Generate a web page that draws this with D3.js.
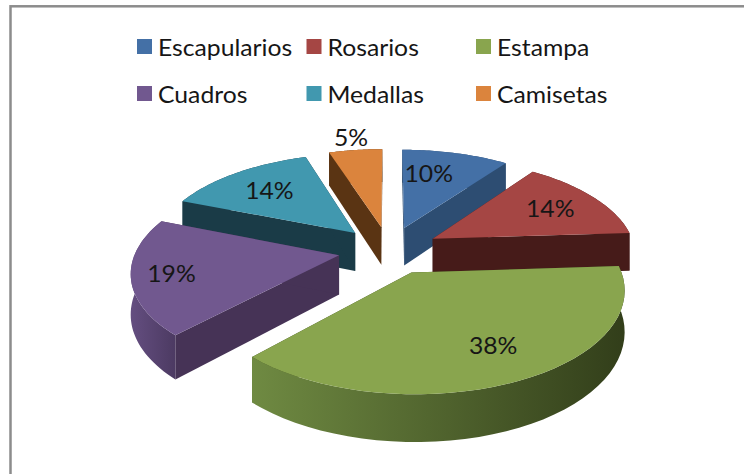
<!DOCTYPE html>
<html><head><meta charset="utf-8">
<script src="https://cdn.jsdelivr.net/npm/d3@7"></script>
<style>html,body{margin:0;padding:0;background:#fff}svg{display:block}text{font-family:Lato,"Open Sans",sans-serif;fill:#161616}</style>
</head><body><svg id="c" width="744" height="474"></svg>
<script>
const categories = ["Escapularios","Rosarios","Estampa","Cuadros","Medallas","Camisetas"];
const percents = [10,14,38,19,14,5];
const topColors = ["#4470a6","#a54644","#89a54e","#71588f","#4198af","#db843d"];
const wallColors = ["#2d4d72","#461b19","#3a4620","#463356","#1a3b47","#5a3413"];
const rimLeft = ["#2d4d72","#461b19","#6f8a42","#644e80","#1a3b47","#5a3413"];
const rimRight = ["#2d4d72","#461b19","#323e1a","#4c3a62","#1a3b47","#5a3413"];
const labelRadius = [0.7,0.72,0.72,0.81,0.7,1.2];
const labelAngle = [-6,0,-3,0,0,0];

const W=744,H=474,TEXT_STRETCH=1.03,FONT_SIZE=24;
const svg=d3.select("#c");
const defs=svg.append("defs");
const cx=389,cy=250,R=203,Q=96,P=0.15,EXPL=0.25,DEPTH=39;
const rad=Math.PI/180;
const proj=(u,v)=>{const s=1/(1-P*v);return [cx+R*u*s,cy+Q*v*s,s];};

svg.append("rect").attr("x",10.5).attr("y",6.3).attr("width",W+20).attr("height",H+20)
  .attr("fill","#fff").attr("stroke","#8c8c8c").attr("stroke-width",2.5);

const slices=d3.pie().sort(null).value(d=>d)(percents).map((a,i)=>{
  const mid=(a.startAngle+a.endAngle)/2;
  return {i,a,mid,u0:EXPL*Math.sin(mid),v0:-EXPL*Math.cos(mid)};
});
const pt=(s,th,r)=>proj(s.u0+r*Math.sin(th),s.v0-r*Math.cos(th));
const line=d3.line();
const rimPts=s=>d3.range(0,41).map(k=>pt(s,s.a.startAngle+(s.a.endAngle-s.a.startAngle)*k/40,1));
const down=p=>[p[0],p[1]+DEPTH*p[2]];

slices.forEach(s=>{
  const g=defs.append("linearGradient").attr("id","rim"+s.i);
  g.append("stop").attr("offset",0).attr("stop-color",rimLeft[s.i]);
  g.append("stop").attr("offset",1).attr("stop-color",rimRight[s.i]);
});

const order=slices.slice().sort((a,b)=>a.v0-b.v0);
const gs=svg.selectAll("g.slice").data(order).join("g").attr("class","slice");
gs.each(function(s){
  const g=d3.select(this),apex=proj(s.u0,s.v0),rim=rimPts(s);
  const wall=(p)=>[apex,p,down(p),down(apex)];
  g.append("path").attr("d",line(wall(rim[0]).map(p=>p.slice(0,2)))+"Z").attr("fill",wallColors[s.i]);
  g.append("path").attr("d",line(wall(rim[40]).map(p=>p.slice(0,2)))+"Z").attr("fill",wallColors[s.i]);
  g.append("path").attr("d",line(rim.concat(rim.map(down).reverse()).map(p=>p.slice(0,2)))+"Z").attr("fill",`url(#rim${s.i})`);
  g.append("path").attr("d",line([apex].concat(rim).map(p=>p.slice(0,2)))+"Z").attr("fill",topColors[s.i]);
});

svg.selectAll("text.pct").data(slices).join("text").attr("class","pct")
  .attr("text-anchor","middle").attr("dominant-baseline","central").attr("font-size",FONT_SIZE)
  .attr("transform",s=>{const p=pt(s,s.mid+labelAngle[s.i]*rad,labelRadius[s.i]);return `translate(${p[0]},${p[1]}) scale(${TEXT_STRETCH},1)`;})
  .text(s=>percents[s.i]+"%");

const colX=d3.scalePoint().domain([0,1,2]).range([137,476]);
const rowY=d3.scalePoint().domain([0,1]).range([47,94]);
const leg=svg.selectAll("g.leg").data(categories).join("g").attr("class","leg")
  .attr("transform",(d,i)=>`translate(${colX(i%3)},${rowY(Math.floor(i/3))})`);
leg.append("rect").attr("x",0).attr("y",-8).attr("width",15).attr("height",15).attr("fill",(d,i)=>topColors[i]);
leg.append("text").attr("transform",`translate(21,0) scale(${TEXT_STRETCH},1)`).attr("dominant-baseline","central").attr("font-size",FONT_SIZE).text(d=>d);
</script></body></html>
